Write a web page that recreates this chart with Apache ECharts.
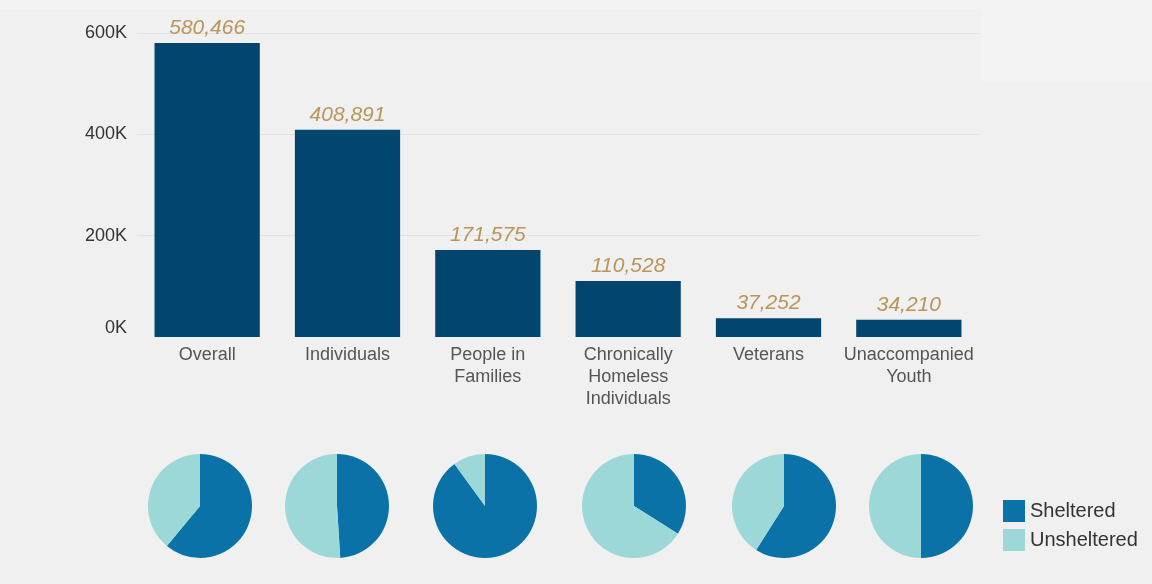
<!DOCTYPE html>
<html><head><meta charset="utf-8">
<script src="https://cdn.jsdelivr.net/npm/echarts@6/dist/echarts.min.js"></script>
<style>html,body{margin:0;padding:0;background:#f0f0f0}#c{width:1152px;height:584px}</style>
</head><body><div id="c"></div>
<script>
const categories = ['Overall','Individuals','People in\nFamilies','Chronically\nHomeless\nIndividuals','Veterans','Unaccompanied\nYouth'];
const totals = [580466, 408891, 171575, 110528, 37252, 34210];
const shelteredPct = [61, 49, 90, 34, 59, 50];
const unshelteredPct = [39, 51, 10, 66, 41, 50];
const yTicks = [0, 200000, 400000, 600000];
const pieNames = ['Sheltered', 'Unsheltered'];

const pieCentersX = [200, 337, 485, 634, 784, 921];
const pieColors = ['#0b72a7', '#9cd8d8'];

const chart = echarts.init(document.getElementById('c'));
const pies = totals.map((t, i) => ({
  type: 'pie', radius: 52, center: [pieCentersX[i], 506],
  startAngle: 90, clockwise: true, silent: true,
  label: {show: false}, labelLine: {show: false},
  itemStyle: {borderWidth: 0},
  color: pieColors,
  data: [{name: pieNames[0], value: shelteredPct[i]}, {name: pieNames[1], value: unshelteredPct[i]}]
}));

chart.setOption({
  backgroundColor: '#f0f0f0',
  animation: false,
  textStyle: {fontFamily: 'Liberation Sans, Arial, sans-serif'},
  graphic: [
    {type: 'rect', shape: {x: 0, y: 0, width: 1152, height: 9}, style: {fill: '#f3f3f3'}, z: -1},
    {type: 'rect', shape: {x: 982, y: 0, width: 170, height: 82}, style: {fill: '#f3f3f3'}, z: -1}
  ],
  grid: {left: 137, right: 1152 - 979, top: 33, height: 304},
  xAxis: {
    type: 'category', data: categories,
    axisLine: {show: false}, axisTick: {show: false},
    axisLabel: {color: '#555', fontSize: 18, lineHeight: 22, margin: 7, interval: 0}
  },
  yAxis: {
    type: 'value', min: 0, max: 600000, interval: 200000,
    splitLine: {lineStyle: {color: '#e2e2e2', width: 1}, showMinLine: false},
    axisLine: {show: false}, axisTick: {show: false},
    axisLabel: {
      color: '#333', fontSize: 18, margin: 10,
      formatter: v => v === 0 ? '{z|0K}' : (v / 1000) + 'K',
      rich: {z: {fontSize: 18, color: '#333', padding: [0, 0, 18, 0]}}
    }
  },
  legend: {
    left: 1003, top: 500, orient: 'vertical', itemWidth: 22, itemHeight: 22, itemGap: 7,
    padding: 0, icon: 'rect', data: pieNames,
    textStyle: {fontSize: 20, color: '#333'}
  },
  series: [{
    type: 'bar', data: totals, barWidth: '75%',
    itemStyle: {color: '#02466f'},
    label: {
      show: true, position: 'top', distance: 4,
      color: '#b8955a', fontSize: 21, fontStyle: 'italic',
      formatter: p => p.value.toLocaleString('en-US')
    }
  }].concat(pies)
});
</script></body></html>
